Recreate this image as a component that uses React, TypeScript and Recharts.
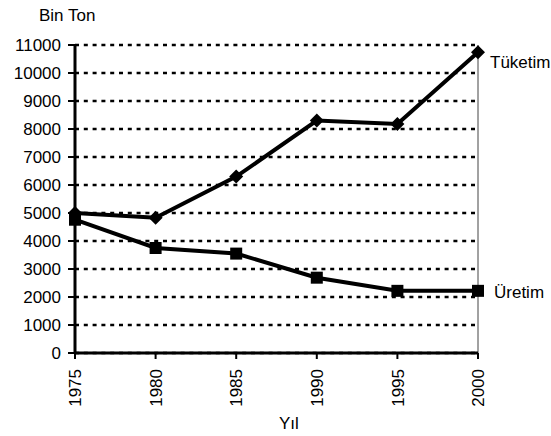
import React from 'react';
import { LineChart, Line, XAxis, YAxis, CartesianGrid, ReferenceLine, LabelList, Label } from 'recharts';

const years = [1975, 1980, 1985, 1990, 1995, 2000];
const tuketim = [5000, 4830, 6300, 8300, 8180, 10740];
const uretim = [4760, 3750, 3550, 2690, 2220, 2220];
const yTicks = [0, 1000, 2000, 3000, 4000, 5000, 6000, 7000, 8000, 9000, 10000, 11000];
const seriesNames = { tuketim: 'Tüketim', uretim: 'Üretim' };
const yTitle = 'Bin Ton';
const xTitle = 'Yıl';

const data = years.map((y, i) => ({ year: y, tuketim: tuketim[i], uretim: uretim[i] }));

const FONT = '"Liberation Sans", Arial, sans-serif';
const FS = 17;

const Diamond = (props: any) => {
  const { cx, cy } = props;
  if (cx == null || cy == null) return null;
  const r = 7;
  return <polygon points={`${cx},${cy - r} ${cx + r},${cy} ${cx},${cy + r} ${cx - r},${cy}`} fill="#000" />;
};
const Square = (props: any) => {
  const { cx, cy } = props;
  if (cx == null || cy == null) return null;
  const s = 12;
  return <rect x={cx - s / 2} y={cy - s / 2} width={s} height={s} fill="#000" />;
};

const YTick = (props: any) => {
  const { x, y, payload } = props;
  return (
    <text x={x} y={y} dy="0.36em" textAnchor="end" fontFamily={FONT} fontSize={FS} fill="#000">
      {payload.value}
    </text>
  );
};
const XTick = (props: any) => {
  const { x, y, payload } = props;
  return (
    <text transform={`translate(${x},${y}) rotate(-90)`} dy="0.36em" textAnchor="end" fontFamily={FONT} fontSize={FS} fill="#000">
      {payload.value}
    </text>
  );
};

const endLabel = (text: string, dx: number, dy: number) => (props: any) => {
  const { x, y, index } = props;
  if (index !== years.length - 1) return null;
  return (
    <text x={x + dx} y={y + dy} fontFamily={FONT} fontSize={FS} fill="#000">
      {text}
    </text>
  );
};

export default function App() {
  return (
    <div style={{ position: 'absolute', left: 0, top: 0, background: '#fff' }}>
      <LineChart width={551} height={436} data={data} margin={{ top: 45, right: 73, bottom: 0, left: 0 }}>
        <CartesianGrid vertical={false} stroke="#000" strokeWidth={2.5} strokeDasharray="4 4.8" />
        <ReferenceLine x={2000} stroke="#444" strokeWidth={1} />
        <XAxis
          dataKey="year"
          type="number"
          domain={[1975, 2000]}
          ticks={years}
          height={83}
          axisLine={{ stroke: '#000', strokeWidth: 3 }}
          tickLine={{ stroke: '#000', strokeWidth: 2 }}
          tickSize={6}
          tickMargin={10}
          tick={<XTick />}
        >
          <Label
            content={() => (
              <text x={279} y={429} fontFamily={FONT} fontSize={FS} fill="#000">
                {xTitle}
              </text>
            )}
          />
        </XAxis>
        <YAxis
          domain={[0, 11000]}
          ticks={yTicks}
          width={75}
          axisLine={{ stroke: '#000', strokeWidth: 3 }}
          tickLine={{ stroke: '#000', strokeWidth: 2 }}
          tickSize={7}
          tickMargin={7}
          tick={<YTick />}
          interval={0}
        >
          <Label
            content={() => (
              <text x={39} y={21} fontFamily={FONT} fontSize={FS} fill="#000">
                {yTitle}
              </text>
            )}
          />
        </YAxis>
        <Line dataKey="tuketim" stroke="#000" strokeWidth={4} dot={<Diamond />} isAnimationActive={false}>
          <LabelList dataKey="tuketim" content={endLabel(seriesNames.tuketim, 12, 16)} />
        </Line>
        <Line dataKey="uretim" stroke="#000" strokeWidth={4} dot={<Square />} isAnimationActive={false}>
          <LabelList dataKey="uretim" content={endLabel(seriesNames.uretim, 16, 7)} />
        </Line>
      </LineChart>
    </div>
  );
}
